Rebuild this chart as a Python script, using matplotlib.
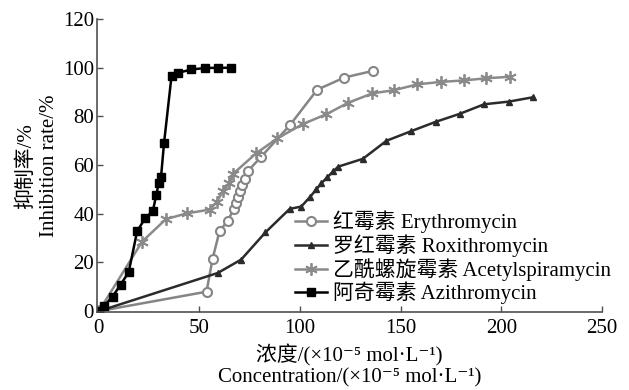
import matplotlib
matplotlib.use('Agg')
import matplotlib.pyplot as plt

plt.rcParams['font.family'] = ['Liberation Serif', 'Noto Sans CJK SC', 'DejaVu Serif']
plt.rcParams['font.size'] = 15

# Erythromycin
ery_x = [0, 53.5, 56.5, 60, 64, 67, 68.3, 69.3, 70.3, 71.3, 72.5, 74, 80.7, 95, 108.5, 122, 136]
ery_y = [0, 8, 21.5, 33, 37, 42, 44.5, 47, 49.5, 52, 54.5, 57.5, 63.5, 76.5, 91, 96, 98.7]

# Roxithromycin
rox_x = [0, 59.1, 70.7, 82.8, 94.8, 100.6, 105, 108, 110.5, 113.5, 116.5, 119,
         131.2, 142.9, 155.3, 167.4, 179.4, 191.4, 203.7, 215.8]
rox_y = [0, 15.7, 21.2, 32.4, 42, 43, 47, 50, 52.5, 55, 57.5, 59.4,
         62.6, 70, 74, 77.8, 81.1, 85, 86.1, 87.9]

# Acetylspiramycin
ace_x = [0, 21.5, 33.3, 43.7, 55, 58.5, 61.6, 64.9, 66.8, 78.2, 88.7, 101.4, 113,
         123.8, 135.9, 146.7, 158.3, 169.9, 181.3, 192.6, 204.2]
ace_y = [0, 28.6, 37.8, 40.2, 41.7, 44.8, 49.2, 52.6, 56.5, 64.9, 71, 76.9, 80.9,
         85.6, 89.5, 90.8, 93.2, 94.2, 94.8, 95.7, 96.3]

# Azithromycin
azi_x = [0, 2.7, 6.8, 10.8, 14.8, 19, 23, 26.8, 28.5, 29.8, 30.9, 32.4, 36.1, 39.2,
         46, 52.6, 59.3, 65.9]
azi_y = [0, 2.3, 6, 10.9, 16, 32.8, 38.2, 41.1, 47.6, 52.8, 55.3, 69.2, 96.6, 97.9,
         99.3, 99.9, 100, 100]

labels = ['红霉素 Erythromycin', '罗红霉素 Roxithromycin',
          '乙酰螺旋霉素 Acetylspiramycin', '阿奇霉素 Azithromycin']

fig = plt.figure(figsize=(6.29, 3.90), dpi=100)
ax = fig.add_axes([0.154, 0.199, 0.803, 0.752])

ax.plot(ery_x, ery_y, color='#858585', lw=1.8, marker='o', ms=6.5,
        mfc='white', mec='#858585', mew=1.5, label=labels[0])
ax.plot(rox_x, rox_y, color='#2b2b2b', lw=1.8, marker='^', ms=5,
        mfc='#2b2b2b', mec='#2b2b2b', label=labels[1])
ax.plot(ace_x, ace_y, color='#8a8a8a', lw=1.8, marker=(6, 2, 0), ms=9,
        mec='#8a8a8a', mew=1.3, label=labels[2])
ax.plot(azi_x, azi_y, color='black', lw=1.8, marker='s', ms=6,
        mfc='black', mec='black', label=labels[3])

ax.set_xlim(-1, 250)
ax.set_ylim(-0.5, 120)
ax.set_xticks([0, 50, 100, 150, 200, 250])
ax.set_yticks([0, 20, 40, 60, 80, 100, 120])
ax.tick_params(direction='in', length=4, width=1, color='#505050')
ax.tick_params(axis='x', pad=5)
ax.tick_params(axis='y', pad=2)
for s in ['top', 'right']:
    ax.spines[s].set_visible(False)
for s in ['left', 'bottom']:
    ax.spines[s].set_color('#505050')
    ax.spines[s].set_linewidth(1.2)

ax.set_xlabel('浓度/(×10⁻⁵ mol·L⁻¹)\nConcentration/(×10⁻⁵ mol·L⁻¹)', labelpad=4,
              linespacing=1.15)
ax.set_ylabel('抑制率/%\nInhibition rate/%', labelpad=3, linespacing=1.25)

ax.legend(loc='lower left', bbox_to_anchor=(0.393, 0.027), frameon=False,
          handlelength=1.5, handletextpad=0.3, labelspacing=0.05, borderpad=0,
          borderaxespad=0)

fig.savefig('out.png', dpi=100)
